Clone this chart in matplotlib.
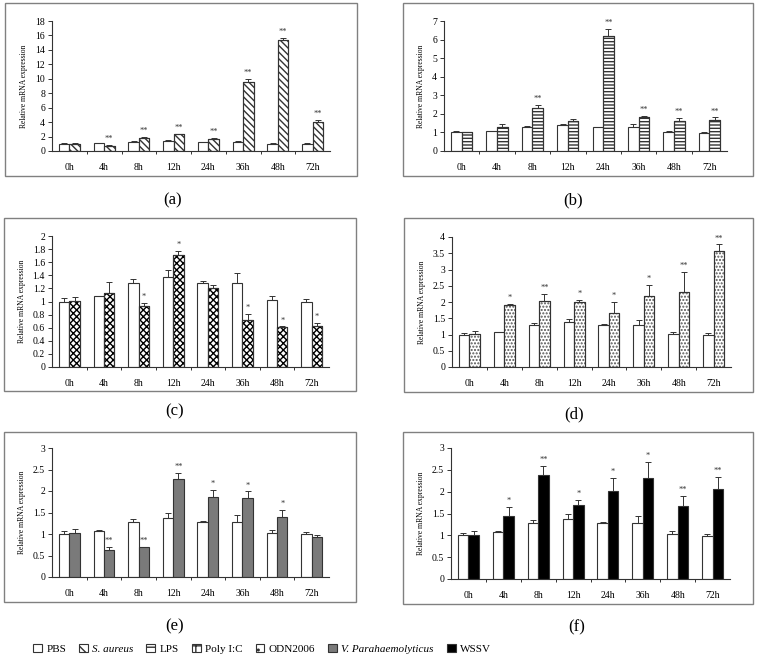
import numpy as np
import matplotlib
matplotlib.use("Agg")
import matplotlib.pyplot as plt
from matplotlib.patches import Rectangle, Patch
from matplotlib.ticker import FormatStrFormatter, FixedLocator

plt.rcParams['font.family'] = ['Liberation Serif', 'DejaVu Serif']
plt.rcParams['hatch.linewidth'] = 1.0

hours = ['0h', '4h', '8h', '12h', '24h', '36h', '48h', '72h']

# control group (same in every panel)
pbs = [1.00, 1.08, 1.29, 1.38, 1.28, 1.28, 1.03, 0.99]
pbs_err = [0.06, 0.01, 0.05, 0.10, 0.03, 0.16, 0.06, 0.05]

# treated groups
s_aureus = [1.00, 0.75, 1.85, 2.30, 1.70, 9.60, 15.40, 4.00]
s_aureus_err = [0.10, 0.10, 0.10, 0.10, 0.10, 0.35, 0.25, 0.25]
s_aureus_sig = ['', '**', '**', '**', '**', '**', '**', '**']

lps = [1.00, 1.29, 2.29, 1.60, 6.21, 1.84, 1.60, 1.66]
lps_err = [0.05, 0.17, 0.20, 0.12, 0.35, 0.03, 0.17, 0.15]
lps_sig = ['', '', '**', '', '**', '**', '**', '**']

polyic = [1.01, 1.13, 0.93, 1.71, 1.21, 0.72, 0.61, 0.63]
polyic_err = [0.06, 0.17, 0.05, 0.06, 0.04, 0.09, 0.01, 0.04]
polyic_sig = ['', '', '*', '*', '', '*', '*', '*']

odn = [1.02, 1.90, 2.04, 1.99, 1.65, 2.20, 2.32, 3.57]
odn_err = [0.10, 0.05, 0.22, 0.08, 0.34, 0.33, 0.60, 0.20]
odn_sig = ['', '*', '**', '*', '*', '*', '**', '**']

vp = [1.02, 0.63, 0.69, 2.29, 1.87, 1.83, 1.40, 0.93]
vp_err = [0.09, 0.07, 0.01, 0.13, 0.16, 0.16, 0.16, 0.05]
vp_sig = ['', '**', '**', '**', '*', '*', '*', '']

wssv = [1.00, 1.45, 2.38, 1.70, 2.01, 2.31, 1.68, 2.05]
wssv_err = [0.10, 0.20, 0.21, 0.12, 0.31, 0.37, 0.23, 0.29]
wssv_sig = ['', '*', '**', '*', '*', '*', '**', '**']

W, H = 761, 669
fig = plt.figure(figsize=(W / 100, H / 100), dpi=100)

def px_axes(l, t, r, b):
    return fig.add_axes([l / W, 1 - b / H, (r - l) / W, (b - t) / H])

def px_box(l, t, r, b):
    fig.patches.append(Rectangle((l / W, 1 - b / H), (r - l) / W, (b - t) / H,
                                 transform=fig.transFigure, fill=False,
                                 edgecolor='#808080', lw=1.0))

styles = {
    'S. aureus': dict(facecolor='white', hatch='\\\\\\\\\\'),
    'LPS': dict(facecolor='white', hatch='-----'),
    'Poly I:C': dict(facecolor='white', hatch='xxxxx'),
    'ODN2006': dict(facecolor='white', hatch='.....'),
    'V. Parahaemolyticus': dict(facecolor='#7a7a7a', hatch=None),
    'WSSV': dict(facecolor='black', hatch=None),
}

panels = [
    ('(a)', s_aureus, s_aureus_err, s_aureus_sig, 'S. aureus', 18, 2,
     (52, 21, 330, 151), (5, 3, 357, 176), (173, 200)),
    ('(b)', lps, lps_err, lps_sig, 'LPS', 7, 1,
     (444, 21, 727, 151), (403, 3, 753, 176), (573, 200)),
    ('(c)', polyic, polyic_err, polyic_sig, 'Poly I:C', 2, 0.2,
     (52, 236, 329, 367), (4, 218, 356, 391), (175, 411)),
    ('(d)', odn, odn_err, odn_sig, 'ODN2006', 4, 0.5,
     (452, 237, 731, 367), (404, 218, 753, 392), (574, 414)),
    ('(e)', vp, vp_err, vp_sig, 'V. Parahaemolyticus', 3, 0.5,
     (52, 448, 329, 577), (4, 432, 356, 602), (175, 626)),
    ('(f)', wssv, wssv_err, wssv_sig, 'WSSV', 3, 0.5,
     (451, 448, 730, 579), (403, 432, 753, 604), (577, 627)),
]

x = np.arange(len(hours))
bw = 0.3
edge = '#333333'

for tag, vals, errs, sig, name, ymax, step, ax_px, box_px, lab_px in panels:
    px_box(*box_px)
    ax = px_axes(*ax_px)
    st = styles[name]
    ax.bar(x - bw / 2, pbs, bw, color='white', edgecolor=edge, lw=0.8,
           yerr=[np.zeros(len(pbs)), pbs_err], ecolor=edge,
           error_kw=dict(elinewidth=0.7, capsize=2, capthick=0.7))
    hc = '#555555' if name == 'ODN2006' else ('black' if name == 'Poly I:C' else edge)
    ax.bar(x + bw / 2, vals, bw, color=st['facecolor'], edgecolor=hc,
           lw=0.8, hatch=st['hatch'],
           yerr=[np.zeros(len(vals)), errs], ecolor=edge,
           error_kw=dict(elinewidth=0.7, capsize=2, capthick=0.7))
    if st['hatch']:
        ax.bar(x + bw / 2, vals, bw, fill=False, edgecolor=edge, lw=0.8)
    for xi, v, e, s in zip(x, vals, errs, sig):
        if s:
            ax.text(xi + bw / 2, v + e + ymax * 0.015, s, ha='center',
                    va='bottom', fontsize=6, color='#333333')
    ax.set_xlim(-0.5, len(hours) - 0.5)
    ax.set_ylim(0, ymax)
    ax.set_yticks(np.arange(0, ymax + step / 2, step))
    ax.yaxis.set_major_formatter(FormatStrFormatter('%g'))
    ax.set_xticks(x)
    ax.set_xticklabels(hours)
    ax.xaxis.set_minor_locator(FixedLocator(np.arange(0.5, len(hours) - 0.5, 1)))
    ax.tick_params(axis='x', which='major', length=0, labelsize=7, pad=9)
    ax.tick_params(axis='x', which='minor', length=2.5, width=0.7, direction='out',
                   color=edge)
    ax.tick_params(axis='y', length=3, width=0.7, direction='out', labelsize=7,
                   color=edge, pad=2)
    for sp in ['top', 'right']:
        ax.spines[sp].set_visible(False)
    for sp in ['left', 'bottom']:
        ax.spines[sp].set_color(edge)
        ax.spines[sp].set_linewidth(0.8)
    ax.set_ylabel('Relative mRNA expression', fontsize=5.5, labelpad=5)
    fig.text(lab_px[0] / W, 1 - lab_px[1] / H, tag, ha='center', va='center',
             fontsize=12)

handles = [Patch(facecolor='white', edgecolor=edge, lw=0.8)]
labels = ['PBS']
legend_hatch = {'S. aureus': '\\\\\\', 'LPS': '---', 'Poly I:C': '++',
                'ODN2006': '..', 'V. Parahaemolyticus': None, 'WSSV': None}
for name in ['S. aureus', 'LPS', 'Poly I:C', 'ODN2006', 'V. Parahaemolyticus', 'WSSV']:
    st = styles[name]
    handles.append(Patch(facecolor=st['facecolor'], edgecolor=edge,
                         hatch=legend_hatch[name], lw=0.8))
    labels.append(name)

leg = fig.legend(handles, labels, loc='center', bbox_to_anchor=(262 / W, 1 - 649 / H),
                 ncol=7, frameon=False, fontsize=8, handlelength=0.8,
                 handleheight=0.8, handletextpad=0.4, columnspacing=1.15)
for t in leg.get_texts():
    if t.get_text() in ('S. aureus', 'V. Parahaemolyticus'):
        t.set_style('italic')

fig.savefig('out.png', dpi=100)
